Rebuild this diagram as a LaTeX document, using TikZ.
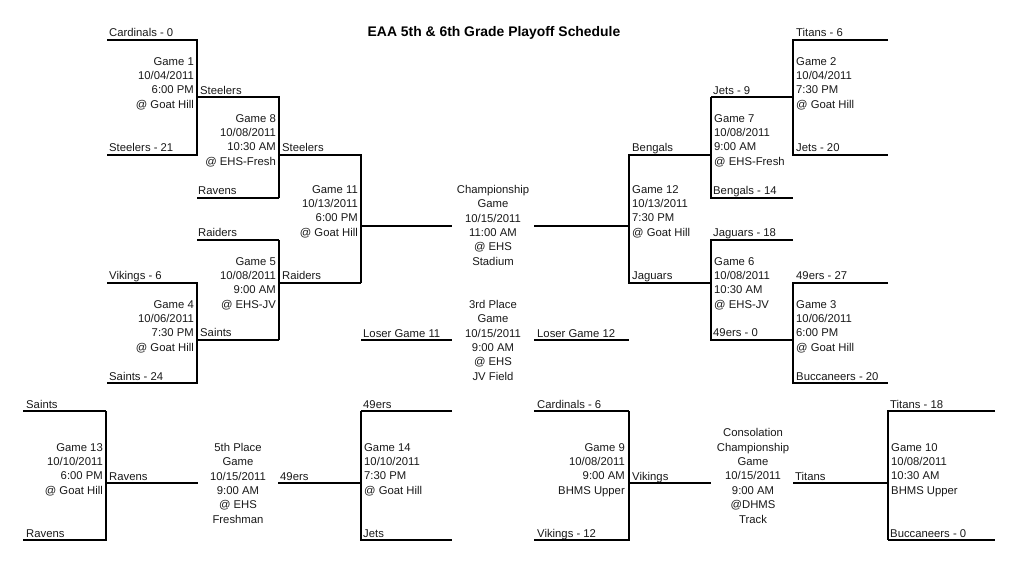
\documentclass[tikz,border=0pt]{standalone}
\usepackage{fontspec}
\setmainfont{Liberation Sans}
\tikzset{
  thk/.style={line width=2.2pt,line cap=butt,line join=miter},
  thn/.style={line width=1.4pt,line cap=butt,line join=miter},
  team/.style={anchor=base west,inner sep=0pt,text=black!90,font=\fontsize{11.3}{14.3}\selectfont},
  infoR/.style={anchor=north east,inner sep=0pt,align=right,text=black!90,font=\fontsize{11.3}{14.35}\selectfont},
  infoL/.style={anchor=north west,inner sep=0pt,align=left,text=black!90,font=\fontsize{11.3}{14.35}\selectfont},
  infoC/.style={anchor=north,inner sep=0pt,align=center,text=black!90,font=\fontsize{11.3}{14.35}\selectfont},
  titlelabel/.style={inner sep=0pt,font=\bfseries\fontsize{13.9}{16}\selectfont}
}
% name, left x, top y, right x, bottom y
\newcommand{\corners}[5]{%
  \coordinate (#1a) at (#2,#3);\coordinate (#1b) at (#4,#3);
  \coordinate (#1c) at (#4,#5);\coordinate (#1d) at (#2,#5);}
\begin{document}
\begin{tikzpicture}[x=1pt,y=-1pt]
\useasboundingbox (0,0) rectangle (1024,566);
\fill[white] (0,0) rectangle (1024,566);
% junction coordinates: a=top left, b=top right, c=bottom right, d=bottom left
\corners{gA}{107}{40}{197}{155}
\corners{gH}{197}{97}{279}{198}
\corners{gK}{279}{155}{361}{283}
\corners{gE}{197}{240}{279}{340}
\corners{gD}{107}{283}{197}{383}
\corners{gB}{793}{40}{888}{155}
\corners{gG}{711}{97}{793}{198}
\corners{gL}{629}{155}{711}{283}
\corners{gF}{711}{240}{793}{340}
\corners{gC}{793}{283}{888}{383}
\corners{gM}{23}{411}{106}{540}
\corners{gN}{361}{411}{452}{540}
\corners{gI}{534}{411}{629}{540}
\corners{gJ}{888}{411}{995}{540}
\coordinate (champL) at (452,226);\coordinate (champLj) at (361,226);
\coordinate (champR) at (534,226);\coordinate (champRj) at (629,226);
\coordinate (loseLa) at (361,340);\coordinate (loseLb) at (452,340);
\coordinate (loseRa) at (534,340);\coordinate (loseRb) at (629,340);
\coordinate (fifthLj) at (106,483);\coordinate (fifthL) at (198,483);
\coordinate (fifthRj) at (361,483);\coordinate (fifthR) at (278,483);
\coordinate (consLj) at (629,483);\coordinate (consL) at (711,483);
\coordinate (consRj) at (888,483);\coordinate (consR) at (793,483);
% brackets
\draw[thk] (gAa) -- (gAb) -- (gAc) -- (gAd);
\draw[thn] (gHa) -- (gHb) -- (gHc);
\draw[thk] (gHc) -- (gHd);
\draw[thk] (gKa) -- (gKb) -- (gKc);
\draw[thn] (gKc) -- (gKd);
\draw[thk] (gEa) -- (gEb);
\draw[thn] (gEb) -- (gEc);
\draw[thk] (gEc) -- (gEd);
\draw[thk] (gDa) -- (gDb) -- (gDc) -- (gDd);
\draw[thk] (gBb) -- (gBa) -- (gBd) -- (gBc);
\draw[thn] (gGb) -- (gGa);
\draw[thk] (gGa) -- (gGd) -- (gGc);
\draw[thk] (gLb) -- (gLa) -- (gLd) -- (gLc);
\draw[thk] (gFb) -- (gFa) -- (gFd) -- (gFc);
\draw[thk] (gCb) -- (gCa) -- (gCd) -- (gCc);
\draw[thn] (gMa) -- (gMb);
\draw[thk] (gMb) -- (gMc) -- (gMd);
\draw[thn] (gNb) -- (gNa);
\draw[thk] (gNa) -- (gNd) -- (gNc);
\draw[thn] (gIa) -- (gIb);
\draw[thk] (gIb) -- (gIc) -- (gId);
\draw[thn] (gJb) -- (gJa) -- (gJd);
\draw[thk] (gJd) -- (gJc);
% feeders
\draw[thk] (champLj) -- (champL);
\draw[thk] (champRj) -- (champR);
\draw[thk] (loseLa) -- (loseLb);
\draw[thk] (loseRa) -- (loseRb);
\draw[thk] (fifthLj) -- (fifthL);
\draw[thk] (fifthRj) -- (fifthR);
\draw[thk] (consLj) -- (consL);
\draw[thk] (consRj) -- (consR);
% title
\node[titlelabel] (title) at (494,32.5) {EAA 5th \& 6th Grade Playoff Schedule};
% game texts
\node[infoR] (t1) at (194,57) {Game 1\\10/04/2011\\6:00 PM\\@ Goat Hill};
\node[infoR] (t8) at (276,114) {Game 8\\10/08/2011\\10:30 AM\\@ EHS-Fresh};
\node[infoR] (t11) at (358,185) {Game 11\\10/13/2011\\6:00 PM\\@ Goat Hill};
\node[infoR] (t5) at (276,257) {Game 5\\10/08/2011\\9:00 AM\\@ EHS-JV};
\node[infoR] (t4) at (194,300) {Game 4\\10/06/2011\\7:30 PM\\@ Goat Hill};
\node[infoL] (t2) at (796,57) {Game 2\\10/04/2011\\7:30 PM\\@ Goat Hill};
\node[infoL] (t7) at (714,114) {Game 7\\10/08/2011\\9:00 AM\\@ EHS-Fresh};
\node[infoL] (t12) at (632,185) {Game 12\\10/13/2011\\7:30 PM\\@ Goat Hill};
\node[infoL] (t6) at (714,257) {Game 6\\10/08/2011\\10:30 AM\\@ EHS-JV};
\node[infoL] (t3) at (796,300) {Game 3\\10/06/2011\\6:00 PM\\@ Goat Hill};
\node[infoR] (t13) at (103,443) {Game 13\\10/10/2011\\6:00 PM\\@ Goat Hill};
\node[infoL] (t14) at (364,443) {Game 14\\10/10/2011\\7:30 PM\\@ Goat Hill};
\node[infoR] (t9) at (625,443) {Game 9\\10/08/2011\\9:00 AM\\BHMS Upper};
\node[infoL] (t10) at (891,443) {Game 10\\10/08/2011\\10:30 AM\\BHMS Upper};
\node[infoC] (champ) at (493,185) {Championship\\Game\\10/15/2011\\11:00 AM\\@ EHS\\Stadium};
\node[infoC] (third) at (493,300) {3rd Place\\Game\\10/15/2011\\9:00 AM\\@ EHS\\JV Field};
\node[infoC] (fifth) at (238,443) {5th Place\\Game\\10/15/2011\\9:00 AM\\@ EHS\\Freshman};
\node[infoC] (cons) at (753,428.5) {Consolation\\Championship\\Game\\10/15/2011\\9:00 AM\\@DHMS\\Track};
% team labels
\node[team] (l01) at (109,36) {Cardinals - 0};
\node[team] (l02) at (109,151) {Steelers - 21};
\node[team] (l03) at (200,94) {Steelers};
\node[team] (l04) at (198,194) {Ravens};
\node[team] (l05) at (282,151) {Steelers};
\node[team] (l06) at (198,236) {Raiders};
\node[team] (l07) at (282,279) {Raiders};
\node[team] (l08) at (109,279) {Vikings - 6};
\node[team] (l09) at (200,336) {Saints};
\node[team] (l10) at (109,380) {Saints - 24};
\node[team] (l11) at (796,36) {Titans - 6};
\node[team] (l12) at (796,151) {Jets - 20};
\node[team] (l13) at (713,94) {Jets - 9};
\node[team] (l14) at (713,194) {Bengals - 14};
\node[team] (l15) at (632,151) {Bengals};
\node[team] (l16) at (713,236) {Jaguars - 18};
\node[team] (l17) at (632,279) {Jaguars};
\node[team] (l18) at (796,279) {49ers - 27};
\node[team] (l19) at (713,336) {49ers - 0};
\node[team] (l20) at (796,380) {Buccaneers - 20};
\node[team] (l21) at (363,337) {Loser Game 11};
\node[team] (l22) at (537,337) {Loser Game 12};
\node[team] (l23) at (26,408) {Saints};
\node[team] (l24) at (26,537) {Ravens};
\node[team] (l25) at (109,480) {Ravens};
\node[team] (l26) at (280,480) {49ers};
\node[team] (l27) at (363,408) {49ers};
\node[team] (l28) at (363,537) {Jets};
\node[team] (l29) at (537,408) {Cardinals - 6};
\node[team] (l30) at (537,537) {Vikings - 12};
\node[team] (l31) at (632,480) {Vikings};
\node[team] (l32) at (795,480) {Titans};
\node[team] (l33) at (890,408) {Titans - 18};
\node[team] (l34) at (890,537) {Buccaneers - 0};
\end{tikzpicture}
\end{document}
